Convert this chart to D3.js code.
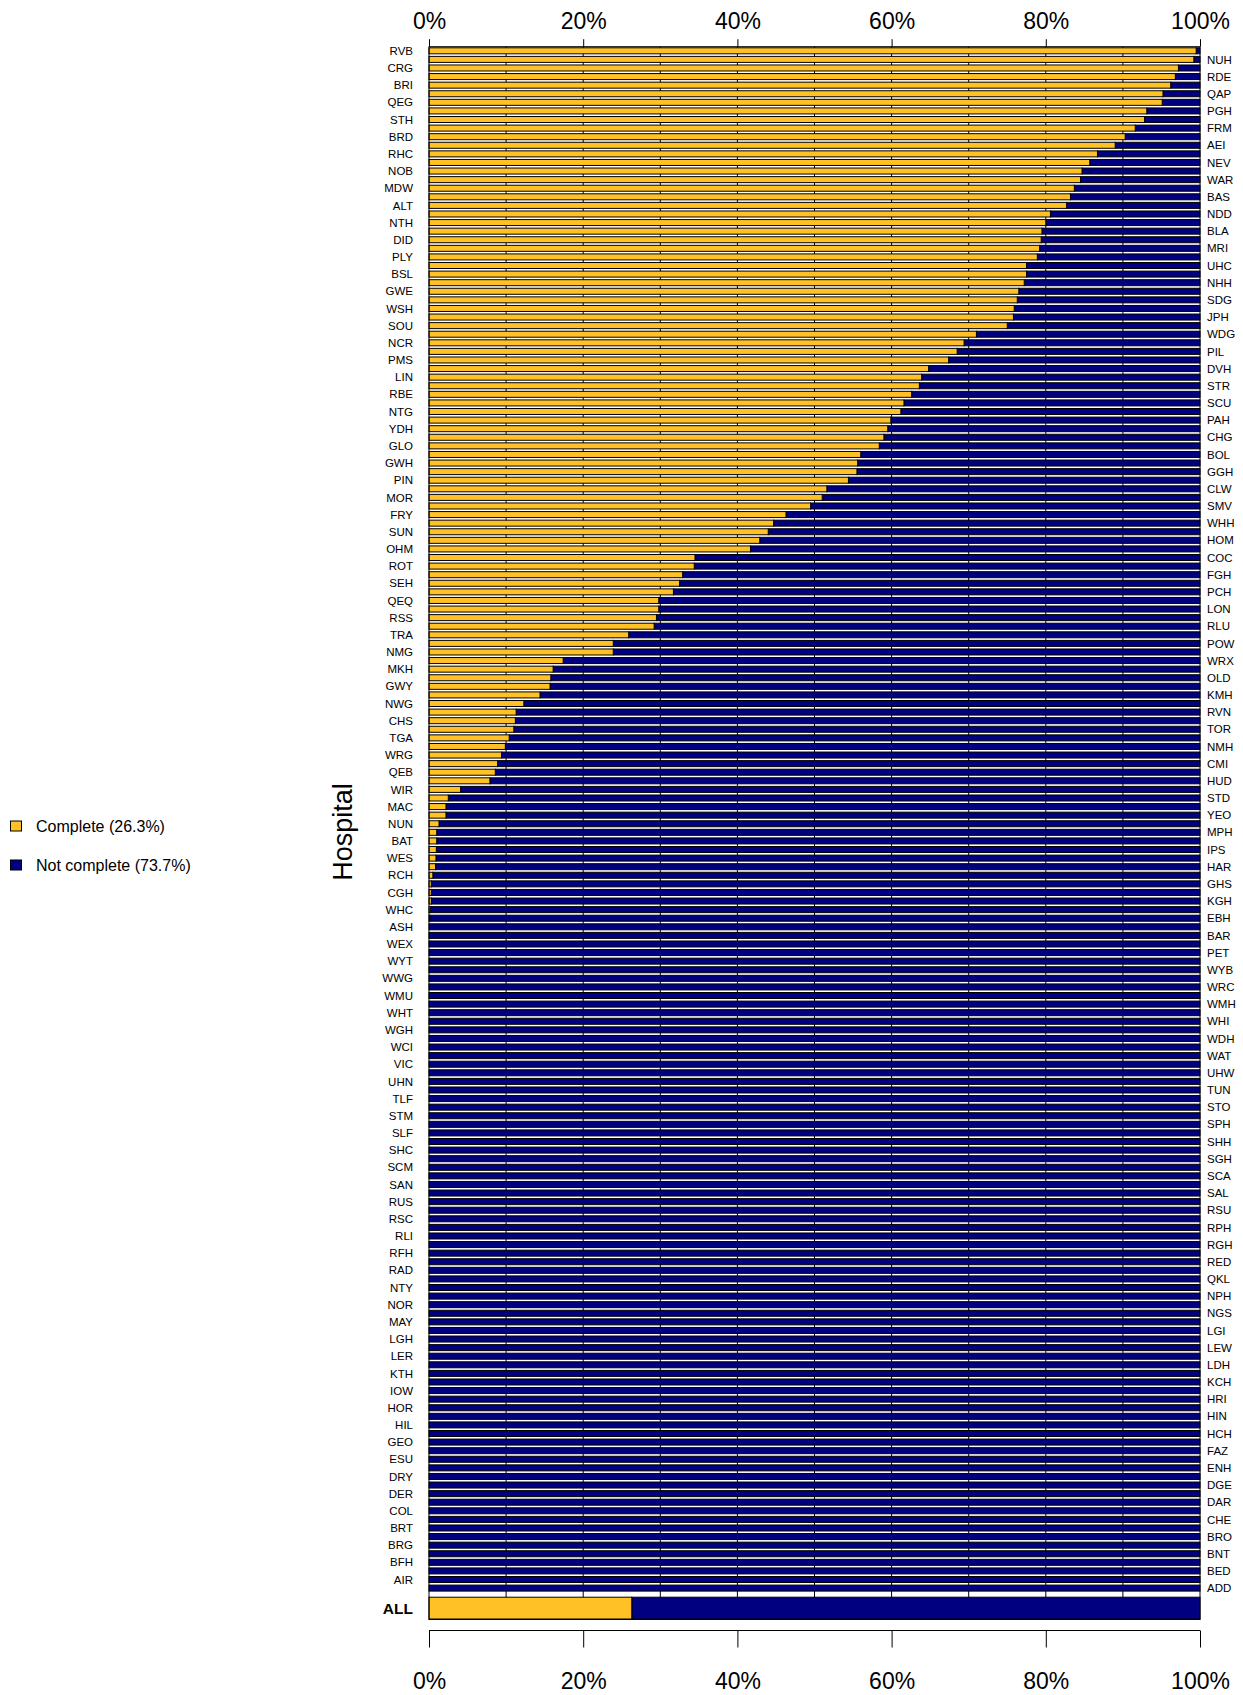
<!DOCTYPE html>
<html>
<head>
<meta charset="utf-8">
<script src="https://cdn.jsdelivr.net/npm/d3@7"></script>
<style>
  html, body { margin: 0; padding: 0; background: #fff; }
  svg { display: block; font-family: "Liberation Sans", Arial, Helvetica, sans-serif; }
</style>
</head>
<body>
<svg id="chart" width="1243" height="1695"></svg>
<script>
// Hospitals in bar order (top to bottom); odd positions labelled on the left, even on the right
const hospitals = [
  "RVB","NUH","CRG","RDE","BRI","QAP","QEG","PGH","STH","FRM",
  "BRD","AEI","RHC","NEV","NOB","WAR","MDW","BAS","ALT","NDD",
  "NTH","BLA","DID","MRI","PLY","UHC","BSL","NHH","GWE","SDG",
  "WSH","JPH","SOU","WDG","NCR","PIL","PMS","DVH","LIN","STR",
  "RBE","SCU","NTG","PAH","YDH","CHG","GLO","BOL","GWH","GGH",
  "PIN","CLW","MOR","SMV","FRY","WHH","SUN","HOM","OHM","COC",
  "ROT","FGH","SEH","PCH","QEQ","LON","RSS","RLU","TRA","POW",
  "NMG","WRX","MKH","OLD","GWY","KMH","NWG","RVN","CHS","TOR",
  "TGA","NMH","WRG","CMI","QEB","HUD","WIR","STD","MAC","YEO",
  "NUN","MPH","BAT","IPS","WES","HAR","RCH","GHS","CGH","KGH",
  "WHC","EBH","ASH","BAR","WEX","PET","WYT","WYB","WWG","WRC",
  "WMU","WMH","WHT","WHI","WGH","WDH","WCI","WAT","VIC","UHW",
  "UHN","TUN","TLF","STO","STM","SPH","SLF","SHH","SHC","SGH",
  "SCM","SCA","SAN","SAL","RUS","RSU","RSC","RPH","RLI","RGH",
  "RFH","RED","RAD","QKL","NTY","NPH","NOR","NGS","MAY","LGI",
  "LGH","LEW","LER","LDH","KTH","KCH","IOW","HRI","HOR","HIN",
  "HIL","HCH","GEO","FAZ","ESU","ENH","DRY","DGE","DER","DAR",
  "COL","CHE","BRT","BRO","BRG","BNT","BFH","BED","AIR","ADD"
];

// Percentage complete per hospital (same order)
const completePct = [
  99.5, 99.2, 97.2, 96.8, 96.2, 95.2, 95.1, 93.1, 92.8, 91.6,
  90.3, 89.0, 86.7, 85.7, 84.7, 84.5, 83.7, 83.2, 82.7, 80.6,
  80.0, 79.5, 79.4, 79.2, 78.9, 77.5, 77.5, 77.2, 76.5, 76.3,
  75.9, 75.8, 75.0, 71.0, 69.4, 68.5, 67.4, 64.8, 63.9, 63.6,
  62.6, 61.6, 61.2, 59.9, 59.5, 59.0, 58.4, 56.0, 55.6, 55.5,
  54.4, 51.6, 51.0, 49.5, 46.3, 44.7, 44.0, 42.9, 41.7, 34.5,
  34.4, 32.9, 32.5, 31.7, 29.8, 29.8, 29.5, 29.2, 25.9, 23.9,
  23.9, 17.4, 16.1, 15.8, 15.7, 14.4, 12.3, 11.3, 11.2, 11.0,
  10.4, 9.9, 9.4, 8.9, 8.6, 7.9, 4.1, 2.5, 2.2, 2.2,
  1.3, 1.0, 1.0, 0.95, 0.9, 0.85, 0.5, 0.3, 0.3, 0.3,
  0.15, 0.1, 0, 0, 0, 0, 0, 0, 0, 0,
  0, 0, 0, 0, 0, 0, 0, 0, 0, 0,
  0, 0, 0, 0, 0, 0, 0, 0, 0, 0,
  0, 0, 0, 0, 0, 0, 0, 0, 0, 0,
  0, 0, 0, 0, 0, 0, 0, 0, 0, 0,
  0, 0, 0, 0, 0, 0, 0, 0, 0, 0,
  0, 0, 0, 0, 0, 0, 0, 0, 0, 0,
  0, 0, 0, 0, 0, 0, 0, 0, 0, 0
];

// Overall
const overallLabel = ["ALL"];
const overallComplete = [26.3];

const xTicks = [0, 20, 40, 60, 80, 100];
const gridTicks = [10, 20, 30, 40, 50, 60, 70, 80, 90];
const legendLabels = ["Complete (26.3%)", "Not complete (73.7%)"];

const colComplete = "#FFC125";
const colNot = "#000080";

const svg = d3.select("#chart");

const plotLeft = 429, plotRight = 1200;
const boxTop = 46.7, boxBottom = 1619.5;

const x = d3.scaleLinear().domain([0, 100]).range([plotLeft, plotRight]);
// stroke (1px) adds half a pixel on each side of each band
const y = d3.scaleBand().domain(hospitals).range([47.8, 1591.1]).paddingInner(0.30).paddingOuter(0);
const yAll = d3.scaleBand().domain(overallLabel).range([1597.2, 1619.0]).padding(0);

// gridlines
svg.append("g").selectAll("line").data(gridTicks).join("line")
  .attr("x1", d => x(d)).attr("x2", d => x(d))
  .attr("y1", boxTop).attr("y2", boxBottom)
  .attr("stroke", "#000").attr("stroke-width", 1);

// bars
const bars = svg.append("g");
hospitals.forEach((h, i) => {
  const v = completePct[i];
  bars.append("rect")
    .attr("x", x(v)).attr("y", y(h))
    .attr("width", x(100) - x(v)).attr("height", y.bandwidth())
    .attr("fill", colNot).attr("stroke", "#000").attr("stroke-width", 1);
  bars.append("rect")
    .attr("x", x(0)).attr("y", y(h))
    .attr("width", x(v) - x(0)).attr("height", y.bandwidth())
    .attr("fill", colComplete).attr("stroke", "#000").attr("stroke-width", 1);
});

// overall bar
overallLabel.forEach((h, i) => {
  const v = overallComplete[i];
  bars.append("rect")
    .attr("x", x(v)).attr("y", yAll(h))
    .attr("width", x(100) - x(v)).attr("height", yAll.bandwidth())
    .attr("fill", colNot).attr("stroke", "#000").attr("stroke-width", 1);
  bars.append("rect")
    .attr("x", x(0)).attr("y", yAll(h))
    .attr("width", x(v) - x(0)).attr("height", yAll.bandwidth())
    .attr("fill", colComplete).attr("stroke", "#000").attr("stroke-width", 1);
});

// box
svg.append("rect")
  .attr("x", plotLeft).attr("y", boxTop)
  .attr("width", plotRight - plotLeft).attr("height", boxBottom - boxTop)
  .attr("fill", "none").attr("stroke", "#000").attr("stroke-width", 1);

// hospital labels
svg.append("g").selectAll("text").data(hospitals).join("text")
  .attr("x", (d, i) => i % 2 === 0 ? 413 : 1207)
  .attr("y", d => y(d) + y.bandwidth() / 2)
  .attr("dy", "0.36em")
  .attr("text-anchor", (d, i) => i % 2 === 0 ? "end" : "start")
  .attr("font-size", 11.5)
  .attr("fill", "#000")
  .text(d => d);

svg.append("text")
  .attr("x", 413).attr("y", yAll("ALL") + yAll.bandwidth() / 2)
  .attr("dy", "0.36em").attr("text-anchor", "end")
  .attr("font-size", 15.5).attr("font-weight", "bold")
  .text("ALL");

// top axis
const topAxis = d3.axisTop(x).tickValues(xTicks).tickFormat(d => d + "%").tickSize(7.5).tickPadding(10).tickSizeOuter(0);
const gTop = svg.append("g").attr("transform", `translate(0,${boxTop})`).call(topAxis);
gTop.select(".domain").remove();
gTop.selectAll("text").attr("font-size", 23).attr("font-family", "Liberation Sans, Arial, sans-serif").attr("fill", "#000");
gTop.selectAll("line").attr("stroke", "#000");

// bottom axis
const botAxis = d3.axisBottom(x).tickValues(xTicks).tickFormat(d => d + "%").tickSize(17).tickPadding(25).tickSizeOuter(0);
const gBot = svg.append("g").attr("transform", "translate(0,1630.5)").call(botAxis);
gBot.select(".domain").attr("stroke", "#000").attr("d", `M${plotLeft},0H${plotRight}`);
gBot.selectAll("text").attr("font-size", 23).attr("font-family", "Liberation Sans, Arial, sans-serif").attr("fill", "#000");
gBot.selectAll("line").attr("stroke", "#000");

// axis title
svg.append("text")
  .attr("transform", "translate(342,832) rotate(-90)")
  .attr("text-anchor", "middle").attr("dy", "0.36em")
  .attr("font-size", 27)
  .text("Hospital");

// legend
const legend = svg.append("g");
legendLabels.forEach((lab, i) => {
  const cy = 826 + i * 39;
  legend.append("rect")
    .attr("x", 10.5).attr("y", cy - 5).attr("width", 11).attr("height", 10)
    .attr("fill", i === 0 ? colComplete : colNot).attr("stroke", "#000").attr("stroke-width", 1);
  legend.append("text")
    .attr("x", 36).attr("y", cy).attr("dy", "0.36em")
    .attr("font-size", 16).text(lab);
});
</script>
</body>
</html>
